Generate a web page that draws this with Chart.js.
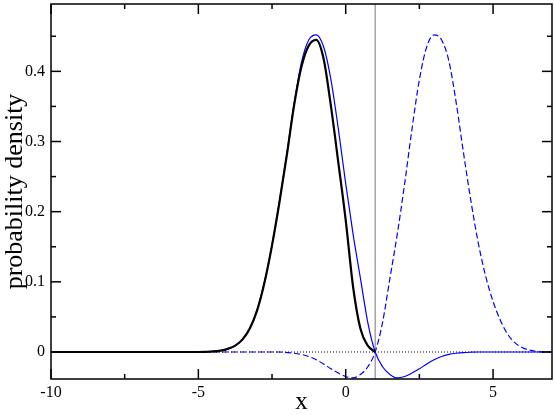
<!DOCTYPE html>
<html>
<head>
<meta charset="utf-8">
<script src="https://cdn.jsdelivr.net/npm/chart.js@4.4.1/dist/chart.umd.min.js"></script>
<style>
html,body{margin:0;padding:0;background:#fff;}
canvas{display:block;}
</style>
</head>
<body>
<canvas id="c" width="554" height="415"></canvas>
<script>
// ---- data ----
const xGrid = [-10,-9,-8,-7,-6,-5,-4.75,-4.5,-4.25,-4,-3.75,-3.5,-3.25,-3,-2.75,-2.5,-2.25,-2,-1.75,-1.5,-1.25,-1,-0.75,-0.5,-0.25,0,0.25,0.5,0.75,1,1.25,1.5,1.75,2,2.25,2.5,2.75,3,3.25,3.5,3.75,4,4.25,4.5,4.75,5,5.25,5.5,5.75,6,6.5,7];

// blue solid curve
const blueSolid = [0,0,0,0,0,0,0.0003,0.0008,0.002,0.0045,0.009,0.018,0.034,0.061,0.101,0.153,0.214,0.282,0.354,0.413,0.445,0.452,0.435,0.388,0.318,0.24,0.168,0.105,0.042,0,-0.021,-0.032,-0.037,-0.035,-0.030,-0.024,-0.017,-0.011,-0.0065,-0.0035,-0.0018,-0.0008,-0.0003,0,0,0,0,0,0,0,0,0];

// blue dashed curve
const blueDashed = [0,0,0,0,0,0,0,0,0,0,0,0,0,0,0,0,0,-0.0008,-0.0018,-0.0035,-0.0065,-0.011,-0.017,-0.024,-0.030,-0.035,-0.037,-0.032,-0.021,0,0.042,0.105,0.168,0.24,0.318,0.388,0.435,0.452,0.445,0.415,0.355,0.283,0.215,0.155,0.108,0.072,0.045,0.025,0.013,0.006,0.0008,0];

// black thick curve (ends at x = 1)
const blackX = [-10,-9,-8,-7,-6,-5,-4.75,-4.5,-4.25,-4,-3.75,-3.5,-3.25,-3,-2.75,-2.5,-2.25,-2,-1.75,-1.5,-1.25,-1,-0.75,-0.5,-0.25,0,0.25,0.5,0.75,1];
const blackY = [0,0,0,0,0,0,0.0003,0.0008,0.002,0.0045,0.009,0.018,0.034,0.060,0.100,0.152,0.213,0.280,0.352,0.407,0.437,0.445,0.418,0.350,0.270,0.188,0.093,0.033,0.009,0];

const zeroLineX = [-10,7];
const vLineX = 1;

const xMajor = [-10,-5,0,5];
const xMinor = [-7.5,-2.5,2.5];
const yMajor = [0,0.1,0.2,0.3,0.4];
const yMinor = [0.05,0.15,0.25,0.35,0.45];
const xRange = [-10,7];
const yRange = [-0.0385,0.496];

const pts = (xs, ys) => xs.map((x,i)=>({x:x,y:ys[i]}));

const frameTicks = {
  id:'frameTicks',
  afterDatasetsDraw(chart){
    const {ctx, chartArea:{left,right,top,bottom}, scales:{x,y}} = chart;
    ctx.save();
    ctx.strokeStyle='#000';
    ctx.lineWidth=1.5;
    const ln=(a,b,c,d)=>{ctx.beginPath();ctx.moveTo(a,b);ctx.lineTo(c,d);ctx.stroke();};
    xMajor.forEach(v=>{const p=x.getPixelForValue(v); ln(p,bottom,p,bottom-10); ln(p,top,p,top+10);});
    xMinor.forEach(v=>{const p=x.getPixelForValue(v); ln(p,bottom,p,bottom-5); ln(p,top,p,top+5);});
    yMajor.forEach(v=>{const p=y.getPixelForValue(v); ln(left,p,left+10,p); ln(right,p,right-10,p);});
    yMinor.forEach(v=>{const p=y.getPixelForValue(v); ln(left,p,left+5,p); ln(right,p,right-5,p);});
    ctx.strokeRect(left,top,right-left,bottom-top);
    ctx.restore();
  }
};

const serif = 'Liberation Serif';

new Chart(document.getElementById('c'), {
  type:'scatter',
  data:{
    datasets:[
      {data:pts(blackX,blackY), borderColor:'#000', borderWidth:2.2, showLine:true, pointRadius:0, cubicInterpolationMode:'monotone', order:0},
      {data:pts(xGrid,blueSolid), borderColor:'#0000ff', borderWidth:1.2, showLine:true, pointRadius:0, cubicInterpolationMode:'monotone', order:1},
      {data:pts(xGrid,blueDashed), borderColor:'#0000ff', borderWidth:1.2, borderDash:[6,3], showLine:true, pointRadius:0, cubicInterpolationMode:'monotone', order:2},
      {data:zeroLineX.map(x=>({x:x,y:0})), borderColor:'#000', borderWidth:1, borderDash:[1,2], showLine:true, pointRadius:0, order:3},
      {data:yRange.map(v=>({x:vLineX,y:v})), borderColor:'#8c8c8c', borderWidth:1.2, showLine:true, pointRadius:0, order:4}
    ]
  },
  options:{
    responsive:false,
    animation:false,
    events:[],
    layout:{padding:{left:0,right:2,top:4,bottom:0}},
    plugins:{legend:{display:false}, tooltip:{enabled:false}},
    scales:{
      x:{
        type:'linear', min:xRange[0], max:xRange[1],
        afterBuildTicks:ax=>{ax.ticks=xMajor.map(v=>({value:v}));},
        afterFit:s=>{s.height=36; s.paddingLeft=0; s.paddingRight=0;},
        grid:{display:false, drawTicks:false},
        border:{display:false},
        ticks:{padding:4, color:'#000', font:{family:serif, size:16}, maxRotation:0},
        title:{display:true, text:'x', color:'#000', font:{family:serif, size:25, lineHeight:1}, padding:0}
      },
      y:{
        type:'linear', min:yRange[0], max:yRange[1],
        afterBuildTicks:ax=>{ax.ticks=yMajor.map(v=>({value:v}));},
        afterFit:s=>{s.width=51; s.paddingTop=0; s.paddingBottom=0;},
        grid:{display:false, drawTicks:false},
        border:{display:false},
        ticks:{padding:6, color:'#000', font:{family:serif, size:16}},
        title:{display:true, text:'probability density', color:'#000', font:{family:serif, size:26, lineHeight:1}, padding:{top:2,bottom:0}}
      }
    }
  },
  plugins:[frameTicks]
});
</script>
</body>
</html>
